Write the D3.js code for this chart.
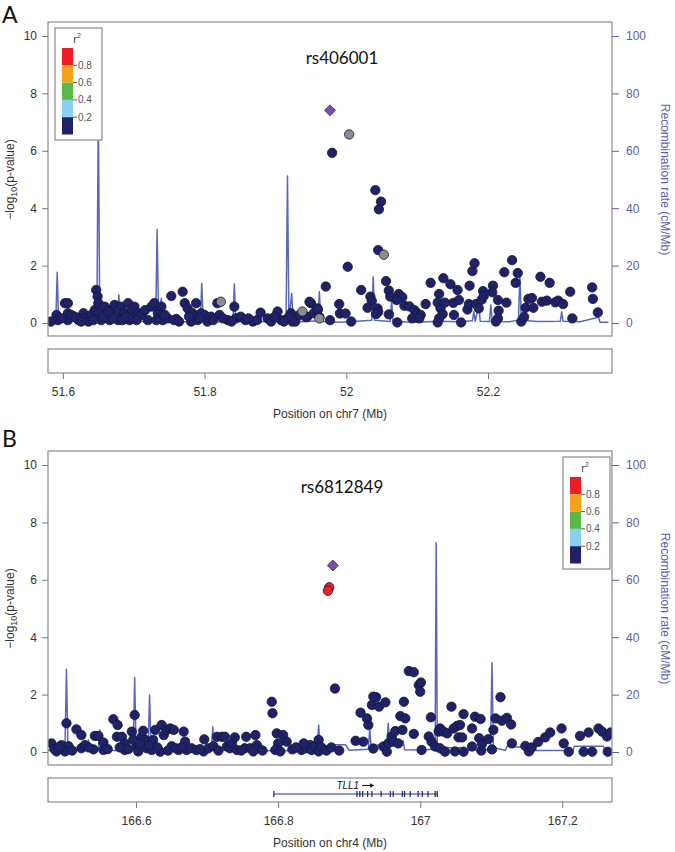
<!DOCTYPE html>
<html><head><meta charset="utf-8">
<script src="https://cdn.jsdelivr.net/npm/d3@7"></script>
<style>body{margin:0;background:#fff}svg{display:block}</style>
</head><body>
<svg id="c" width="675" height="852"></svg>
<script>
// ---------- DATA ----------
const yTicks = [0, 2, 4, 6, 8, 10];
const rateTicks = [0, 20, 40, 60, 80, 100];
const legendColors = ["#ED1C24", "#F7A11A", "#5DB947", "#89CFF0", "#1F2266"];
const legendLabels = ["0.8", "0.6", "0.4", "0.2"];

// Panel A
const titleA = "rs406001";
const chrA = "chr7";
const xDomainA = [51.579, 52.375];
const xTicksA = [51.6, 51.8, 52, 52.2];
const leadA = [[51.977, 7.41]];
const grayA = [[52.004, 6.57], [52.053, 2.38], [51.938, 0.40], [51.962, 0.16], [51.823, 0.74]];
const lowA = [
 [51.591,0.28],[51.593,0.10],[51.607,0.34],[51.607,0.10],[51.612,0.28],[51.603,0.69],[51.607,0.69],
 [51.622,0.10],[51.629,0.34],[51.631,0.16],[51.636,0.05],[51.640,0.28],[51.645,0.45],[51.647,1.15],[51.649,0.92],
 [51.650,0.69],[51.652,0.34],[51.654,0.10],[51.659,0.57],[51.661,0.28],[51.666,0.10],[51.668,0.45],[51.673,0.63],
 [51.675,0.28],[51.678,0.10],[51.682,0.57],[51.687,0.34],[51.692,0.69],[51.694,0.10],[51.697,0.45],[51.701,0.57],
 [51.706,0.34],[51.711,0.28],[51.720,0.10],[51.725,0.57],[51.729,0.69],[51.734,0.34],[51.739,0.57],[51.741,0.10],
 [51.748,0.16],[51.753,0.94],[51.760,0.14],[51.769,1.09],[51.772,0.69],[51.776,0.51],[51.781,0.05],[51.783,0.34],
 [51.788,0.69],[51.790,0.10],[51.795,0.34],[51.800,0.28],[51.804,0.05],[51.809,0.22],[51.818,0.69],[51.821,0.28],
 [51.833,0.10],[51.842,0.57],[51.844,0.16],[51.851,0.22],[51.858,0.10],[51.868,0.05],[51.879,0.36],[51.889,0.16],
 [51.894,0.05],[51.903,0.40],[51.908,0.10],[51.917,0.16],[51.922,0.34],[51.924,0.05],[51.945,0.22],[51.950,0.69],
 [51.954,0.34],[51.959,0.51],[51.971,1.27],[51.977,0.10],
 [51.583,0.05],[51.598,0.16],[51.617,0.22],[51.626,0.05],[51.643,0.10],[51.656,0.22],[51.664,0.40],[51.671,0.16],
 [51.684,0.10],[51.689,0.22],[51.699,0.16],[51.704,0.10],[51.716,0.45],[51.732,0.10],[51.744,0.28],[51.757,0.10],
 [51.764,0.05],[51.778,0.22],[51.793,0.16],[51.812,0.10],[51.826,0.16],[51.838,0.05],[51.862,0.16],[51.874,0.10],
 [51.899,0.22],[51.912,0.05],[51.920,0.22],[51.928,0.05],[51.934,0.28],
 [51.980,5.93],[52.041,4.63],[52.049,4.23],[52.046,3.96],[52.045,2.54],[52.002,1.96],[52.056,1.46],[52.181,2.08],
 [52.178,1.81],[52.234,2.19],[52.223,1.77],[52.242,1.74],[52.239,1.40],[52.274,1.61],[52.287,1.40],[52.316,1.09],
 [52.347,1.24],[52.348,0.84],[52.355,0.37],[52.319,0.16],[52.119,1.40],[52.137,1.56],[52.147,1.35],[52.157,1.15],
 [52.174,1.30],[52.207,1.30],[52.206,1.07],[52.193,1.11],[52.021,1.15],[52.034,0.92],[52.060,1.13],[52.062,0.92],
 [52.074,1.01],[52.079,0.90],[52.071,0.80],[52.036,0.77],[52.030,0.53],[52.044,0.51],[52.045,0.39],[52.042,0.31],
 [52.060,0.30],[52.072,0.02],[52.082,0.60],[52.089,0.58],[52.096,0.45],[52.100,0.34],[52.105,0.28],[52.112,0.66],
 [52.093,0.16],[52.103,0.16],[52.131,1.01],[52.129,0.71],[52.133,0.51],[52.136,0.31],[52.131,0.16],[52.129,0.02],
 [52.139,0.71],[52.151,0.70],[52.159,0.80],[52.152,0.28],[52.162,0.02],[52.171,0.47],[52.173,0.66],[52.183,0.66],
 [52.187,0.51],[52.191,0.81],[52.194,0.94],[52.214,0.80],[52.215,0.43],[52.214,0.16],[52.211,0.05],[52.226,0.71],
 [52.247,0.05],[52.251,0.21],[52.253,0.53],[52.257,0.84],[52.262,0.87],[52.264,0.53],[52.276,0.74],[52.283,0.78],
 [52.295,0.72],[52.299,0.78],[52.306,0.66],[51.948,0.74],[51.943,0.21],[51.960,0.47],[51.962,0.21],[51.990,0.66],
 [51.991,0.33],[51.999,0.33],[52.007,0.05]
];
const recombA = [
 [51.575,0.5],[51.590,0.8],[51.592,17.7],[51.594,0.6],[51.610,0.3],[51.625,1.2],[51.630,0.4],[51.648,1.5],[51.650,75],
 [51.652,2],[51.660,0.5],[51.677,1],[51.679,9.8],[51.681,0.8],[51.700,0.4],[51.720,0.6],[51.731,1],[51.733,32.6],
 [51.735,1.5],[51.739,8.6],[51.741,0.6],[51.760,0.3],[51.780,0.5],[51.794,0.8],[51.796,13.8],[51.798,0.5],[51.820,0.4],
 [51.840,0.6],[51.842,13.6],[51.844,0.5],[51.870,0.3],[51.890,0.6],[51.915,1],[51.917,51.2],[51.919,1],[51.923,10.3],
 [51.925,0.8],[51.940,0.4],[51.960,0.8],[51.962,10.9],[51.964,0.5],[51.990,0.3],[52.010,0.5],[52.036,1],[52.038,16.1],
 [52.040,1],[52.062,0.5],[52.064,8],[52.066,0.5],[52.100,0.3],[52.130,0.6],[52.160,0.4],[52.178,0.8],[52.180,4],
 [52.182,0.6],[52.187,6.3],[52.189,0.6],[52.202,0.5],[52.204,6.3],[52.206,0.5],[52.230,0.4],[52.243,1],[52.245,16.7],
 [52.247,1],[52.270,0.5],[52.302,0.6],[52.304,3.9],[52.306,0.6],[52.330,0.4],[52.356,2],[52.358,0.3],[52.370,0.3]
];

// Panel B
const titleB = "rs6812849";
const chrB = "chr4";
const xDomainB = [166.476, 167.270];
const xTicksB = [166.6, 166.8, 167, 167.2];
const leadB = [[166.877, 6.50]];
const highB = [[166.872, 5.74], [166.870, 5.62]];
const lowB = [
 [166.481,0.30],[166.488,0.02],[166.495,0.24],[166.502,1.00],[166.505,0.20],[166.500,0.02],[166.516,0.79],[166.523,0.59],
 [166.523,0.13],[166.528,0.24],[166.540,0.09],[166.542,0.56],[166.547,0.56],[166.554,0.33],[166.554,0.07],[166.568,1.14],
 [166.574,0.94],[166.573,0.53],[166.580,0.53],[166.584,0.30],[166.584,0.07],[166.594,0.71],[166.598,1.29],[166.596,0.42],
 [166.601,0.20],[166.603,0.02],[166.608,0.53],[166.610,0.74],[166.613,0.42],[166.615,0.13],[166.624,0.42],[166.627,0.77],
 [166.622,0.07],[166.634,0.01],[166.636,0.94],[166.639,0.59],[166.643,0.77],[166.648,0.82],[166.653,0.77],[166.650,0.20],
 [166.660,0.07],[166.667,0.71],[166.669,0.36],[166.671,0.07],[166.678,0.13],[166.685,0.07],[166.696,0.44],[166.695,0.02],
 [166.702,0.13],[166.709,0.20],[166.714,0.53],[166.721,0.53],[166.725,0.53],[166.728,0.20],[166.732,0.13],[166.739,0.51],
 [166.742,0.07],[166.753,0.13],[166.755,0.53],[166.761,0.13],[166.768,0.59],[166.770,0.24],[166.772,0.13],[166.791,1.75],
 [166.792,1.35],[166.798,0.65],[166.800,0.30],[166.796,0.07],[166.803,0.02],[166.807,0.59],[166.812,0.36],[166.820,0.09],
 [166.833,0.07],[166.840,0.13],[166.845,0.24],[166.847,0.07],[166.852,0.21],[166.857,0.42],[166.857,0.02],[166.861,0.16],
 [166.880,2.21],
 [166.485,0.10],[166.492,0.16],[166.510,0.05],[166.533,0.16],[166.560,0.10],[166.577,0.16],[166.589,0.10],[166.605,0.30],
 [166.618,0.24],[166.630,0.16],[166.645,0.05],[166.656,0.13],[166.664,0.16],[166.690,0.10],[166.716,0.05],[166.735,0.30],
 [166.748,0.05],[166.765,0.02],[166.778,0.05],[166.825,0.16],[166.836,0.30],[166.868,0.05],[166.875,0.16],
 [166.886,0.05],[166.909,0.39],[166.920,0.36],[166.916,1.37],[166.925,1.17],[166.927,0.94],[166.932,1.64],[166.938,1.91],
 [166.934,1.93],[166.942,1.58],[166.951,1.73],[166.934,0.12],[166.948,0.19],[166.953,0.01],[166.955,0.30],[166.960,0.54],
 [166.965,0.73],[166.962,0.36],[166.969,0.30],[166.972,1.25],[166.979,1.17],[166.977,1.75],[166.975,0.77],[166.984,2.82],
 [166.991,2.78],[166.998,2.33],[167.001,2.42],[167.000,2.10],[166.991,0.63],[167.002,0.07],[167.015,1.21],[167.012,0.54],
 [167.016,0.36],[167.021,0.19],[167.026,0.71],[167.028,0.82],[167.033,0.71],[167.028,0.13],[167.035,0.01],[167.038,0.65],
 [167.044,1.58],[167.047,0.82],[167.052,0.91],[167.056,0.94],[167.061,1.32],[167.054,0.51],[167.059,0.51],[167.049,0.02],
 [167.061,0.01],[167.073,0.82],[167.077,1.23],[167.085,1.15],[167.073,0.19],[167.083,0.48],[167.087,0.28],[167.086,0.05],
 [167.096,0.45],[167.101,0.09],[167.103,0.77],[167.106,1.17],[167.113,1.91],[167.115,1.09],[167.122,1.19],[167.128,0.96],
 [167.129,0.30],[167.148,0.21],[167.153,0.02],[167.157,0.16],[167.166,0.35],[167.176,0.51],[167.183,0.68],[167.199,0.82],
 [167.202,0.30],[167.209,0.01],[167.225,0.56],[167.237,0.68],[167.230,0.01],[167.242,0.01],[167.251,0.82],[167.256,0.71],
 [167.263,0.54],[167.268,0.68],[167.264,0.01]
];
const recombB = [
 [166.476,0.5],[166.490,0.8],[166.500,3],[166.502,28.8],[166.504,2],[166.515,0.5],[166.531,0.8],[166.533,4.2],[166.535,0.6],
 [166.547,1],[166.549,7.7],[166.551,0.8],[166.570,0.5],[166.580,0.6],[166.596,1],[166.598,26],[166.600,1.5],[166.617,1],
 [166.619,19.9],[166.621,0.8],[166.650,0.4],[166.680,0.6],[166.706,1],[166.708,8.8],[166.710,0.6],[166.750,0.5],
 [166.800,0.4],[166.840,0.6],[166.855,1],[166.857,9.4],[166.859,1],[166.870,1],[166.875,2.5],[166.895,2.5],[166.900,0.6],
 [166.927,1],[166.929,8.2],[166.931,1],[166.940,2.5],[166.953,2.5],[166.955,10],[166.957,2.5],[166.974,2.5],[166.976,4],
 [166.978,0.8],[167.000,0.7],[167.021,1],[167.0225,72.9],[167.024,2],[167.040,1.5],[167.060,1.5],[167.065,0.6],
 [167.099,1],[167.101,31.1],[167.103,1.5],[167.120,0.6],[167.122,2],[167.150,1.5],[167.152,0.5],[167.200,0.5],
 [167.215,0.5],[167.217,2],[167.258,2],[167.260,0.5],[167.270,0.5]
];
const geneB = { name: "TLL1", start: 166.794, end: 167.024, labelAt: 166.882 };
const exonsB = [166.794, 166.911, 166.915, 166.919, 166.926, 166.932, 166.945, 166.958, 166.962, 166.975, 166.978,
 166.986, 166.997, 167.003, 167.011, 167.021, 167.024];

// ---------- DRAWING ----------
const svg = d3.select("#c");
const L = 48, R = 612;
const axisFont = "'Liberation Sans', Arial, sans-serif";
const recColor = "#5A66BE";
const rightColor = "#5B60AC";

function drawPanel(o) {
  const top = o.top;
  const g = svg.append("g");
  const x = d3.scaleLinear().domain(o.xDomain).range([L, R]);
  const y = d3.scaleLinear().domain([0, 10]).range([top + 301, top + 14]);
  const yr = d3.scaleLinear().domain([0, 100]).range([top + 301, top + 14]);
  const bottom = top + 314;
  const gTop = top + 327, gBot = top + 351;

  const clipId = "clip" + o.id;
  svg.append("clipPath").attr("id", clipId).append("rect")
    .attr("x", L).attr("y", top).attr("width", R - L).attr("height", bottom - top);

  // recombination line
  g.append("path").datum(o.recomb).attr("clip-path", `url(#${clipId})`)
    .attr("fill", "none").attr("stroke", recColor).attr("stroke-width", 1.5)
    .attr("stroke-linejoin", "round")
    .attr("d", d3.line().x(d => x(d[0])).y(d => yr(d[1])));

  const pts = g.append("g").attr("clip-path", `url(#${clipId})`);
  function dots(data, fill) {
    pts.selectAll(null).data(data).join("circle")
      .attr("cx", d => x(d[0])).attr("cy", d => y(d[1])).attr("r", 4.7)
      .attr("fill", fill).attr("stroke", "#15173f").attr("stroke-width", 0.8);
  }
  dots(o.low, "#1F2266");
  dots(o.gray, "#8C8C8C");
  dots(o.high, "#EE2124");
  pts.selectAll(null).data(o.lead).join("path")
    .attr("transform", d => `translate(${x(d[0])},${y(d[1])})`)
    .attr("d", "M0,-5.5L5.5,0L0,5.5L-5.5,0Z")
    .attr("fill", "#7B4FA6").attr("stroke", "#3a2a55").attr("stroke-width", 0.8);

  // plot box
  g.append("rect").attr("x", L).attr("y", top).attr("width", R - L).attr("height", bottom - top)
    .attr("fill", "none").attr("stroke", "#8a8a8a").attr("stroke-width", 1.2);

  // left axis
  const ax = g.append("g").attr("transform", `translate(${L},0)`)
    .call(d3.axisLeft(y).tickValues(yTicks).tickSize(6).tickPadding(5).tickFormat(d3.format("d")));
  ax.select(".domain").remove();
  ax.selectAll("line").attr("stroke", "#777");
  ax.selectAll("text").attr("font-family", axisFont).attr("font-size", 12).attr("fill", "#333");

  // right axis
  const ar = g.append("g").attr("transform", `translate(${R},0)`)
    .call(d3.axisRight(yr).tickValues(rateTicks).tickSize(7).tickPadding(7).tickFormat(d3.format("d")));
  ar.select(".domain").remove();
  ar.selectAll("line").attr("stroke", rightColor);
  ar.selectAll("text").attr("font-family", axisFont).attr("font-size", 12).attr("fill", rightColor);

  // axis titles
  const ly = g.append("text").attr("transform", `translate(14,${(y(0) + y(10)) / 2}) rotate(-90)`)
    .attr("text-anchor", "middle").attr("font-family", axisFont).attr("font-size", 12).attr("fill", "#333");
  ly.append("tspan").text("\u2212log");
  ly.append("tspan").attr("font-size", 9).attr("dy", 3).text("10");
  ly.append("tspan").attr("dy", -3).text("(p-value)");
  g.append("text").attr("transform", `translate(661,${(y(0) + y(10)) / 2}) rotate(90)`)
    .attr("text-anchor", "middle").attr("font-family", axisFont).attr("font-size", 12)
    .attr("fill", rightColor).text("Recombination rate (cM/Mb)");

  // gene box
  g.append("rect").attr("x", L).attr("y", gTop).attr("width", R - L).attr("height", gBot - gTop)
    .attr("fill", "none").attr("stroke", "#8a8a8a").attr("stroke-width", 1.2);
  if (o.gene) {
    const gy = gTop + 16;
    g.append("line").attr("x1", x(o.gene.start)).attr("x2", x(o.gene.end)).attr("y1", gy).attr("y2", gy)
      .attr("stroke", "#2B2D8C").attr("stroke-width", 1);
    g.selectAll(null).data(o.exons).join("line")
      .attr("x1", d => x(d)).attr("x2", d => x(d)).attr("y1", gy - 3).attr("y2", gy + 3)
      .attr("stroke", "#2B2D8C").attr("stroke-width", 1.3);
    const lab = g.append("text").attr("x", x(o.gene.labelAt)).attr("y", gy - 5)
      .attr("font-family", axisFont).attr("font-size", 10).attr("font-style", "italic").attr("fill", "#111")
      .text(o.gene.name);
    const tw = lab.node().getComputedTextLength();
    const ax0 = x(o.gene.labelAt) + tw + 3, ay = gy - 8.5;
    g.append("line").attr("x1", ax0).attr("x2", ax0 + 10).attr("y1", ay).attr("y2", ay)
      .attr("stroke", "#111").attr("stroke-width", 1.1);
    g.append("path").attr("d", `M${ax0 + 12},${ay}L${ax0 + 8},${ay - 2.3}L${ax0 + 8},${ay + 2.3}Z`).attr("fill", "#111");
  }

  // x axis
  const axb = g.append("g").attr("transform", `translate(0,${gBot})`)
    .call(d3.axisBottom(x).tickValues(o.xTicks).tickSize(6).tickPadding(8).tickFormat(d3.format("")));
  axb.select(".domain").remove();
  axb.selectAll("line").attr("stroke", "#777");
  axb.selectAll("text").attr("font-family", axisFont).attr("font-size", 12).attr("fill", "#333");
  g.append("text").attr("x", (L + R) / 2).attr("y", gBot + 45).attr("text-anchor", "middle")
    .attr("font-family", axisFont).attr("font-size", 12).attr("fill", "#333")
    .text(`Position on ${o.chr} (Mb)`);

  // SNP title
  g.append("text").attr("x", 342).attr("y", top + 42).attr("text-anchor", "middle")
    .attr("font-family", "Lato, 'Noto Sans', sans-serif").attr("font-size", 17).attr("fill", "#111")
    .text(o.title);

  // panel letter
  g.append("text").attr("x", 2).attr("y", top - (o.id === "A" ? -1 : 4)).attr("font-family", "Lato, 'Noto Sans', sans-serif")
    .attr("font-size", 23).attr("fill", "#111").text(o.id);

  // legend
  const lg = g.append("g").attr("transform", `translate(${o.legendX},${top + o.legendDY})`);
  lg.append("rect").attr("width", 47).attr("height", 112).attr("fill", "#fff")
    .attr("stroke", "#8a8a8a").attr("stroke-width", 1.2);
  const segH = 17.3;
  lg.selectAll(null).data(legendColors).join("rect")
    .attr("x", 7).attr("y", (d, i) => 20 + i * segH).attr("width", 11).attr("height", segH)
    .attr("fill", d => d);
  lg.selectAll(null).data(legendLabels).join("line")
    .attr("x1", 18).attr("x2", 22).attr("y1", (d, i) => 20 + (i + 1) * segH).attr("y2", (d, i) => 20 + (i + 1) * segH)
    .attr("stroke", "#555");
  lg.selectAll(null).data(legendLabels).join("text")
    .attr("x", 23).attr("y", (d, i) => 20 + (i + 1) * segH + 3.5)
    .attr("font-family", axisFont).attr("font-size", 10).attr("fill", "#555").text(d => d);
  const rt = lg.append("text").attr("x", 22).attr("y", 15).attr("text-anchor", "middle")
    .attr("font-family", axisFont).attr("font-size", 11).attr("fill", "#444");
  rt.append("tspan").text("r");
  rt.append("tspan").attr("font-size", 7).attr("dy", -5).text("2");
}

drawPanel({ id: "A", top: 22, xDomain: xDomainA, xTicks: xTicksA, recomb: recombA, low: lowA, gray: grayA,
  high: [], lead: leadA, title: titleA, chr: chrA, legendX: 55, legendDY: 6 });
drawPanel({ id: "B", top: 451, xDomain: xDomainB, xTicks: xTicksB, recomb: recombB, low: lowB, gray: [],
  high: highB, lead: leadB, title: titleB, chr: chrB, legendX: 563, legendDY: 6, gene: geneB, exons: exonsB });
</script>
</body></html>
